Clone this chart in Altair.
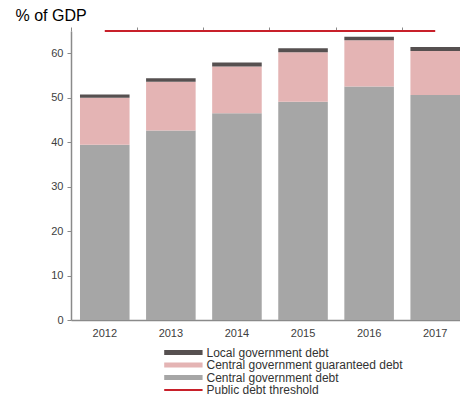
import altair as alt
import pandas as pd

years = ["2012", "2013", "2014", "2015", "2016", "2017"]
central = [39.4, 42.6, 46.5, 49.1, 52.5, 50.6]
guaranteed = [10.6, 11.0, 10.5, 11.1, 10.4, 9.9]
local = [0.7, 0.8, 0.9, 0.9, 0.8, 0.9]
threshold = 65

bar_series = ["Local government debt", "Central government guaranteed debt", "Central government debt"]
bar_colors = ["#565050", "#e4b4b4", "#a6a6a6"]
thr_series = ["Public debt threshold"]
thr_colors = ["#c8202a"]

rows = []
for i, yr in enumerate(years):
    rows.append({"year": yr, "series": bar_series[2], "value": central[i], "ord": 0})
    rows.append({"year": yr, "series": bar_series[1], "value": guaranteed[i], "ord": 1})
    rows.append({"year": yr, "series": bar_series[0], "value": local[i], "ord": 2})
bars_df = pd.DataFrame(rows)
thr_df = pd.DataFrame({"year": [years[0]], "year_end": [years[-1]],
                       "value": [threshold], "series": thr_series})

FONT = "Liberation Sans"
xscale = alt.Scale(domain=years, paddingInner=0.25, paddingOuter=0.068, align=1)
yscale = alt.Scale(domain=[0, 65], nice=False)

legend_common = dict(orient="none", legendX=92, title=None, symbolSize=92,
                     labelFont=FONT, labelFontSize=12, labelColor="#333333",
                     labelOffset=31.5, rowPadding=0.5, padding=0, labelLimit=300)

bars = alt.Chart(bars_df).mark_bar().encode(
    x=alt.X("year:N", scale=xscale,
            axis=alt.Axis(title=None, labelAngle=0, ticks=False, domainColor="#8a8a8a",
                          domainWidth=1.5, labelFont=FONT, labelFontSize=11,
                          labelColor="#404040", labelPadding=7)),
    y=alt.Y("value:Q", stack="zero", scale=yscale,
            axis=alt.Axis(values=[0, 10, 20, 30, 40, 50, 60], title="% of GDP", titleAngle=0,
                          titleAlign="left", titleBaseline="alphabetic", titleX=-56, titleY=-11,
                          titleFont=FONT, titleFontSize=16, titleFontWeight="normal",
                          titleColor="#000000", grid=False, domainColor="#8a8a8a",
                          domainWidth=1.5, tickColor="#8a8a8a", tickSize=4,
                          labelFont=FONT, labelFontSize=11, labelColor="#404040",
                          labelPadding=4)),
    color=alt.Color("series:N", scale=alt.Scale(domain=bar_series, range=bar_colors),
                    legend=alt.Legend(legendY=315.5, symbolType="M-1,-0.5H7V0.5H-1Z",
                                      symbolStrokeWidth=0, **legend_common)),
    order=alt.Order("ord:Q", sort="ascending"),
)

rule = alt.Chart(thr_df).mark_rule(strokeWidth=2).encode(
    x=alt.X("year:N", scale=xscale,
            axis=alt.Axis(title=None, labels=False, domain=False, ticks=True, tickSize=4,
                          tickColor="#8a8a8a", bandPosition=-0.1667)),
    x2="year_end:N",
    y=alt.Y("value:Q", scale=yscale),
    color=alt.Color("series:N", scale=alt.Scale(domain=thr_series, range=thr_colors),
                    legend=alt.Legend(legendY=353, symbolType="M-1,0H7",
                                      symbolStrokeWidth=2, symbolStrokeColor=thr_colors[0],
                                      **legend_common)),
)

chart = alt.layer(bars, rule).resolve_scale(color="independent").resolve_axis(
    x="independent"
).properties(
    width=389, height=289,
    autosize=alt.AutoSizeParams(type="none"),
    padding={"left": 63, "top": 23, "right": 0, "bottom": 80},
).configure_view(stroke=None)

chart.save("out.html", embed_options={"renderer": "svg", "actions": False})
